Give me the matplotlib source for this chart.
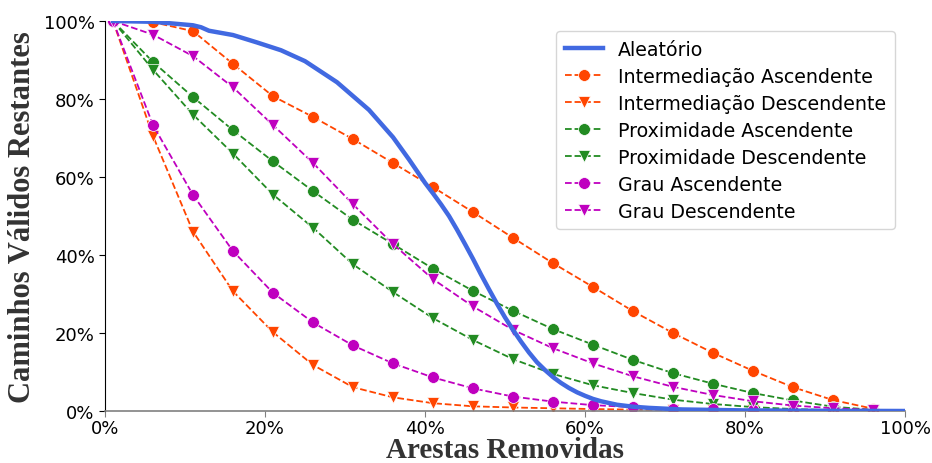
import matplotlib
matplotlib.use("Agg")
import matplotlib.pyplot as plt
from matplotlib.ticker import FixedLocator

# ---- data ----
x_markers = [1, 6, 11, 16, 21, 26, 31, 36, 41, 46, 51, 56, 61, 66, 71, 76, 81, 86, 91, 96]

inter_asc = [100, 99.7, 97.4, 89, 80.7, 75.4, 69.7, 63.6, 57.4, 51, 44.4, 37.9, 31.8, 25.6, 20, 14.9, 10.3, 6.1, 2.8, 0.6]
inter_desc = [100, 70.5, 46, 30.7, 20.2, 11.8, 6.1, 3.5, 2, 1.2, 0.9, 0.7, 0.5, 0.35, 0.25, 0.2, 0.15, 0.1, 0.05, 0.02]
prox_asc = [100, 89.5, 80.5, 72, 64, 56.4, 49, 42.8, 36.5, 30.8, 25.7, 21, 17, 13.1, 9.7, 7, 4.6, 2.7, 1.1, 0.3]
prox_desc = [100, 87.5, 76, 66, 55.5, 47, 37.6, 30.5, 23.8, 18.2, 13.3, 9.5, 6.6, 4.6, 2.9, 1.8, 1.0, 0.5, 0.2, 0.1]
grau_asc = [100, 73.3, 55.4, 41, 30.3, 22.7, 16.8, 12.2, 8.6, 5.8, 3.7, 2.4, 1.5, 1.0, 0.6, 0.4, 0.2, 0.1, 0.1, 0.0]
grau_desc = [100, 96.5, 91, 83, 73.3, 63.6, 53, 42.8, 33.8, 26.8, 20.8, 16.1, 12.2, 8.9, 6.2, 4.1, 2.5, 1.4, 0.7, 0.3]

x_random = [1, 6, 11, 12, 13, 16, 19, 22, 25, 29, 33, 36, 38, 40, 41, 42, 43, 44, 45, 46, 47, 48, 49, 50,
            51, 52, 53, 54, 55, 56, 57, 58, 59, 60, 61, 62, 64, 66, 68, 72, 80, 90, 100]
y_random = [100, 99.8, 98.9, 98.4, 97.5, 96.4, 94.5, 92.5, 89.7, 84.3, 77.2, 70.2, 64.5, 58.5, 55.8, 53, 50,
            46.5, 42.8, 39, 35, 31.2, 27.5, 24, 20.8, 17.8, 15, 12.5, 10.5, 8.7, 7.2, 5.9, 4.8, 3.9, 3.1, 2.5,
            1.6, 1.1, 0.8, 0.4, 0.15, 0.05, 0]

tick_values = [0, 20, 40, 60, 80, 100]
tick_labels = ["0%", "20%", "40%", "60%", "80%", "100%"]

series = [
    ("Intermediação Ascendente", inter_asc, "orangered", "o"),
    ("Intermediação Descendente", inter_desc, "orangered", "v"),
    ("Proximidade Ascendente", prox_asc, "forestgreen", "o"),
    ("Proximidade Descendente", prox_desc, "forestgreen", "v"),
    ("Grau Ascendente", grau_asc, "m", "o"),
    ("Grau Descendente", grau_desc, "m", "v"),
]

fig = plt.figure(figsize=(9.32, 4.64), dpi=100)
ax = fig.add_axes([105 / 932, 1 - 412 / 464, 800 / 932, 390 / 464])

ax.plot(x_random, y_random, color="royalblue", lw=3.2, label="Aleatório", zorder=3)
for name, vals, col, mk in series:
    ax.plot(x_markers, vals, linestyle="--", color=col, marker=mk, markersize=8.5,
            markeredgecolor="white", markeredgewidth=0.5, lw=1.3, label=name)

ax.set_xlim(0, 100)
ax.set_ylim(0, 100)
ax.xaxis.set_major_locator(FixedLocator(tick_values))
ax.yaxis.set_major_locator(FixedLocator(tick_values))
ax.set_xticklabels(tick_labels)
ax.set_yticklabels(tick_labels)
ax.tick_params(labelsize=13, length=4)
ax.tick_params(axis="x", color="gray", pad=2)
ax.spines["top"].set_visible(False)
ax.spines["right"].set_visible(False)
ax.spines["bottom"].set_color("gray")
ax.spines["bottom"].set_linewidth(1.2)

ax.set_xlabel("Arestas Removidas", family="Liberation Serif", fontweight="bold",
              fontsize=21, color="#333333", labelpad=-1)
ax.set_ylabel("Caminhos Válidos Restantes", family="Liberation Serif", fontweight="bold",
              fontsize=22, color="#333333", labelpad=5)

leg = ax.legend(loc="upper right", fontsize=13.7, bbox_to_anchor=(0.9875, 0.974),
                borderaxespad=0, handlelength=2.0, labelspacing=0.42, borderpad=0.45)

fig.savefig("out.png", dpi=100)
